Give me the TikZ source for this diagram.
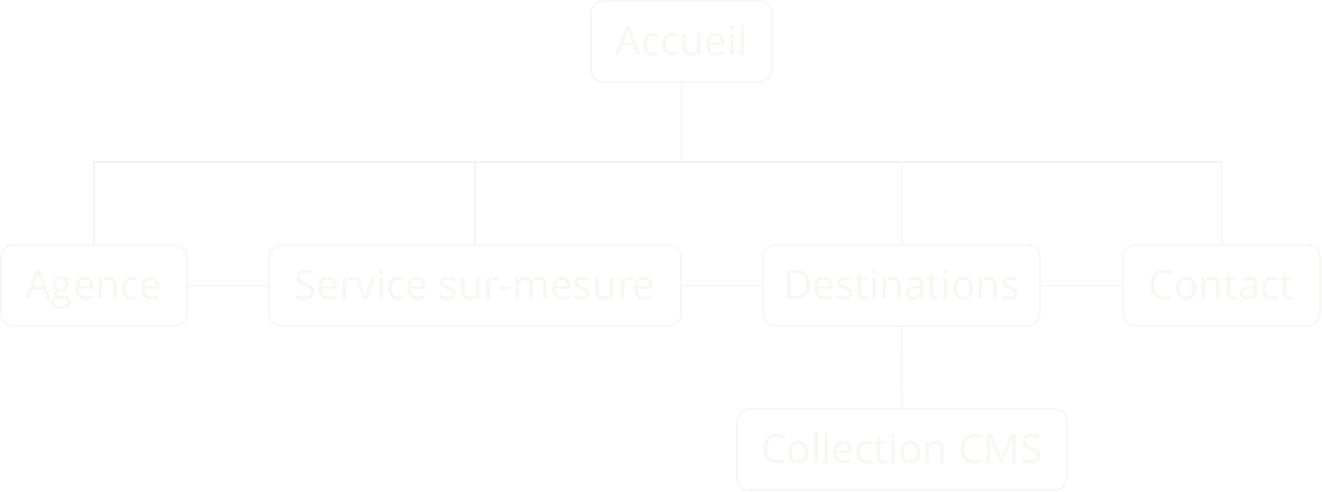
\documentclass[tikz,border=0pt]{standalone}
\usepackage{fontspec}
\setmainfont{Open Sans}
\usepackage{tikz}
\usetikzlibrary{positioning}
\pgfdeclarelayer{nodelayer}
\pgfdeclarelayer{edgelayer}
\pgfsetlayers{nodelayer,edgelayer,main}
\definecolor{boxline}{RGB}{246,244,241}
\definecolor{boxtext}{RGB}{249,247,243}
\tikzset{
    page/.style = {inner sep=0pt, rounded corners=12pt, draw=boxline, line width=1.2pt,
      text=boxtext, minimum height=81pt, text height=28.5pt, text depth=0pt,
      font=\fontsize{40.5}{44}\selectfont},
    none/.style = {inner sep=0pt},
    link/.style = {draw=boxline, line width=1.2pt}
}
\begin{document}
\begin{tikzpicture}[x=1pt, y=-1pt]
  \useasboundingbox (0, 0) rectangle (1322, 492);
  \begin{pgfonlayer}{nodelayer}
    \node [style=page, minimum width=181pt] (0) at (681.5, 41.5) {Accueil};
    \node [style=page, minimum width=186pt] (1) at (94, 285.5) {Agence};
    \node [style=page, minimum width=412pt] (2) at (475, 285.5) {Service sur-mesure};
    \node [style=page, minimum width=277pt] (3) at (901.5, 285.5) {Destinations};
    \node [style=page, minimum width=197pt] (4) at (1221.5, 285.5) {Contact};
    \node [style=page, minimum width=330pt] (5) at (902, 449.5) {Collection CMS};
    \node [style=none] (6) at (681.5, 162) {};
  \end{pgfonlayer}
  \begin{pgfonlayer}{edgelayer}
    \draw [style=link] (0.south) to (6.center);
    \draw [style=link] (6.center) -| (1.north);
    \draw [style=link] (6.center) -| (2.north);
    \draw [style=link] (6.center) -| (3.north);
    \draw [style=link] (6.center) -| (4.north);
    \draw [style=link] (1.east) to (2.west);
    \draw [style=link] (2.east) to (3.west);
    \draw [style=link] (3.east) to (4.west);
    \draw [style=link] (3.south) to (5.north);
  \end{pgfonlayer}
\end{tikzpicture}
\end{document}
